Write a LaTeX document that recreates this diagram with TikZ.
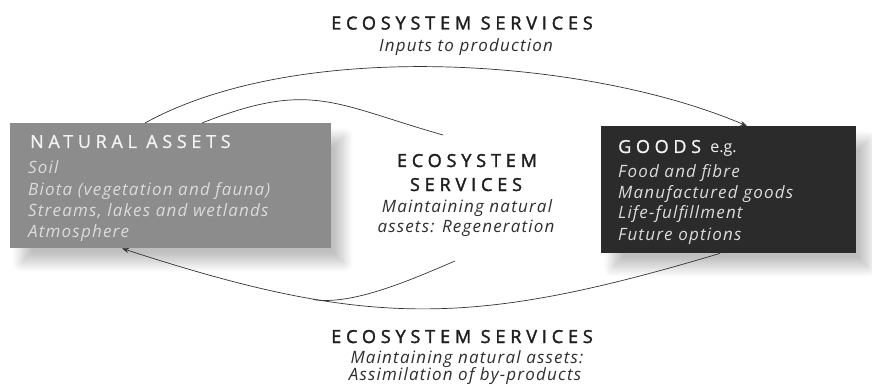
\documentclass[tikz,border=0pt]{standalone}
\usepackage{fontspec}
\setmainfont{Open Sans}
\newfontfamily\headfont[LetterSpace=27,FakeBold=2]{Open Sans}
\newfontfamily\boxheadfont[LetterSpace=26,FakeBold=1.2]{Open Sans}
\newfontfamily\subfont[LetterSpace=7]{Open Sans}
\usetikzlibrary{shadows.blur,arrows.meta}
\definecolor{assetgray}{HTML}{8C8C8C}
\definecolor{goodsdark}{HTML}{2B2B2B}
\tikzset{
  panel/.style={inner sep=0pt, anchor=north west,
    blur shadow={shadow xshift=12pt, shadow yshift=-14pt, shadow blur steps=10, shadow blur radius=10pt, shadow opacity=25}},
  head/.style={inner sep=0pt, anchor=base, font=\headfont\fontsize{18}{20}\selectfont, text=black!88},
  sub/.style={inner sep=0pt, anchor=base, font=\subfont\itshape\fontsize{17}{20}\selectfont, text=black!82},
  boxhead/.style={inner sep=0pt, anchor=base west, font=\boxheadfont\fontsize{18}{20}\selectfont, text=white!95!black},
  item/.style={inner sep=0pt, anchor=base west, font=\subfont\itshape\fontsize{17}{20}\selectfont, text=white!86!black},
  flow/.style={draw=black!80, line width=0.7pt},
  tip/.style={-{Stealth[length=7pt,width=5pt]}},
}
\begin{document}
\begin{tikzpicture}[x=1pt,y=-1pt]
\useasboundingbox (0,0) rectangle (872,390);
% boxes
\node[panel, fill=assetgray, minimum width=321pt, minimum height=125pt] (nat) at (10,123) {};
\node[panel, fill=goodsdark, minimum width=255pt, minimum height=127pt] (goods) at (601,126) {};
% box texts
\node[boxhead] (natH) at (30,148) {NATURAL ASSETS};
\node[item] (nat1) at (28,174) {Soil};
\node[item] (nat2) at (28,195) {Biota (vegetation and fauna)};
\node[item] (nat3) at (28,216) {Streams, lakes and wetlands};
\node[item] (nat4) at (28,237) {Atmosphere};
\node[boxhead] (goodsH) at (618,153) {GOODS {\fontspec{Open Sans}\fontsize{16}{18}\selectfont e.g.}};
\node[item] (g1) at (618,178) {Food and fibre};
\node[item] (g2) at (618,198) {Manufactured goods};
\node[item] (g3) at (618,218) {Life-fulfillment};
\node[item] (g4) at (618,240) {Future options};
% service labels
\node[head] (topH) at (462,29.5) {ECOSYSTEM SERVICES};
\node[sub] (topS) at (466,52) {Inputs to production};
\node[head] (midH1) at (467,167) {ECOSYSTEM};
\node[head] (midH2) at (466,191) {SERVICES};
\node[sub] (midS1) at (467,212) {Maintaining natural};
\node[sub] (midS2) at (466,232) {assets: Regeneration};
\node[head] (botH) at (462,343) {ECOSYSTEM SERVICES};
\node[sub] (botS1) at (467,363) {Maintaining natural assets:};
\node[sub] (botS2) at (465,380) {Assimilation of by-products};
% free ends
\coordinate (innerEnd) at (443,135);
\coordinate (lowStart) at (455,261);
\coordinate (lowEnd) at (313,299.5);
% connectors
\draw[flow,tip] ([xshift=135pt]nat.north west) .. controls (301,37) and (591,59) .. ([xshift=146pt]goods.north west);
\draw[flow] ([xshift=192pt]nat.north west) .. controls (311,80) and (334,104) .. (innerEnd);
\draw[flow,tip] ([xshift=119pt]goods.south west) .. controls (473,327) and (369,329) .. ([xshift=112pt]nat.south west);
\draw[flow] (lowStart) .. controls (415,278) and (353,306) .. (lowEnd);
\end{tikzpicture}
\end{document}
